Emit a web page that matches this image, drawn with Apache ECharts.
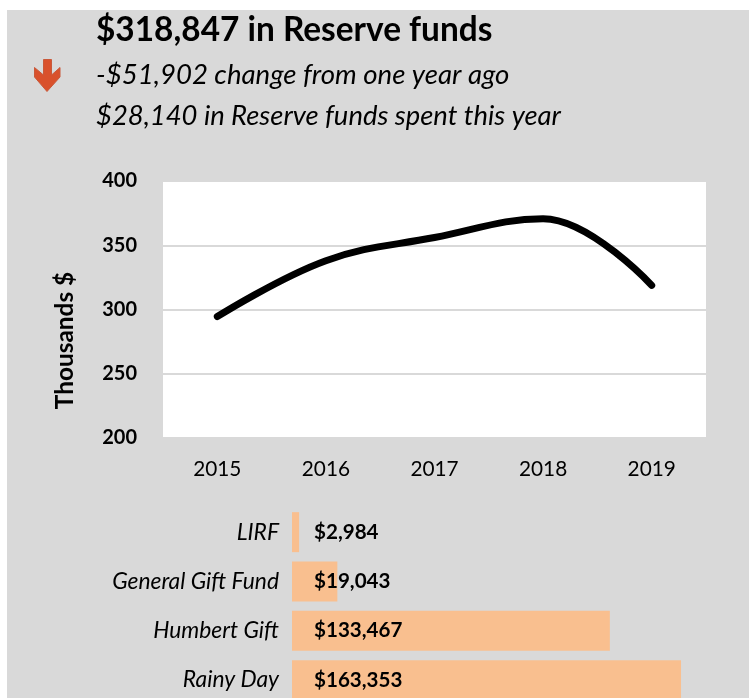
<!DOCTYPE html>
<html><head><meta charset="utf-8">
<style>html,body{margin:0;padding:0;background:#fff;overflow:hidden}#c{width:749px;height:698px}</style>
<script src="https://cdn.jsdelivr.net/npm/echarts@6/dist/echarts.min.js"></script>
</head><body><div id="c"></div>
<script>
const years = ['2015','2016','2017','2018','2019'];
const reserve = [294.5, 338, 356, 370.7, 318.8];
const funds = ['LIRF','General Gift Fund','Humbert Gift','Rainy Day'];
const balances = [2984, 19043, 133467, 163353];
const headline = '$318,847 in Reserve funds';
const sub1 = '-$51,902 change from one year ago';
const sub2 = '$28,140 in Reserve funds spent this year';
const F = 'Lato';
const chart = echarts.init(document.getElementById('c'), null, {renderer:'canvas'});
chart.setOption({
  animation:false,
  backgroundColor:'#fff',
  textStyle:{fontFamily:F},
  graphic:[
    {type:'rect',z:-10,shape:{x:7,y:10,width:742,height:688},style:{fill:'#d9d9d9'}},
    {type:'polygon',z:5,shape:{points:[[43.5,59.5],[51.5,59.5],[51.5,75],[60,67.5],[60,77],[47,91.5],[34.5,77],[34.5,67.5],[43.5,75]]},
     style:{fill:'#d9512c',stroke:'#c9593a',lineWidth:1}}
  ],
  title:[
    {text:headline,left:96,top:14,padding:0,textStyle:{fontFamily:F,fontSize:33.4,fontWeight:'bold',color:'#000'}},
    {text:sub1,left:96,top:61,padding:0,textStyle:{fontFamily:F,fontSize:27.6,fontStyle:'italic',fontWeight:'normal',color:'#000'}},
    {text:sub2,left:96,top:103,padding:0,textStyle:{fontFamily:F,fontSize:27.4,fontStyle:'italic',fontWeight:'normal',color:'#000'}}
  ],
  grid:[
    {left:163,top:181,width:543,height:257,outerBoundsMode:'none',show:true,backgroundColor:'#fff',borderWidth:0},
    {left:292,top:507.5,width:457,height:197.3,outerBoundsMode:'none'}
  ],
  xAxis:[
    {type:'category',gridIndex:0,data:years,boundaryGap:true,axisLine:{show:false},axisTick:{show:false},
     axisLabel:{fontFamily:F,fontSize:20.8,color:'#000',margin:21}},
    {type:'value',gridIndex:1,min:0,max:191900,show:false,splitLine:{show:false}}
  ],
  yAxis:[
    {type:'value',gridIndex:0,min:200,max:400,interval:50,
     axisLine:{show:false},axisTick:{show:false},
     splitLine:{lineStyle:{color:'#d9d9d9',width:2}},
     axisLabel:{fontFamily:F,fontSize:20,fontWeight:'bold',color:'#000',margin:26},
     name:'Thousands $',nameLocation:'middle',nameGap:86,
     nameTextStyle:{fontFamily:F,fontSize:24.4,fontWeight:'bold',color:'#000',padding:[0,62,0,0]}},
    {type:'category',gridIndex:1,data:funds,inverse:true,axisLine:{show:false},axisTick:{show:false},
     axisLabel:{fontFamily:F,fontSize:22.8,fontStyle:'italic',color:'#000',margin:13}}
  ],
  series:[
    {type:'line',xAxisIndex:0,yAxisIndex:0,data:reserve,smooth:0.4,symbol:'none',
     lineStyle:{color:'#000',width:7,cap:'round'}},
    {type:'bar',xAxisIndex:1,yAxisIndex:1,data:balances,barWidth:40,
     itemStyle:{color:'#f9bf8f'},
     label:{show:true,position:'insideLeft',distance:22,fontFamily:F,fontSize:20.6,fontWeight:'bold',color:'#000',
       formatter:p=>'$'+p.value.toLocaleString('en-US')}}
  ]
});
</script></body></html>
